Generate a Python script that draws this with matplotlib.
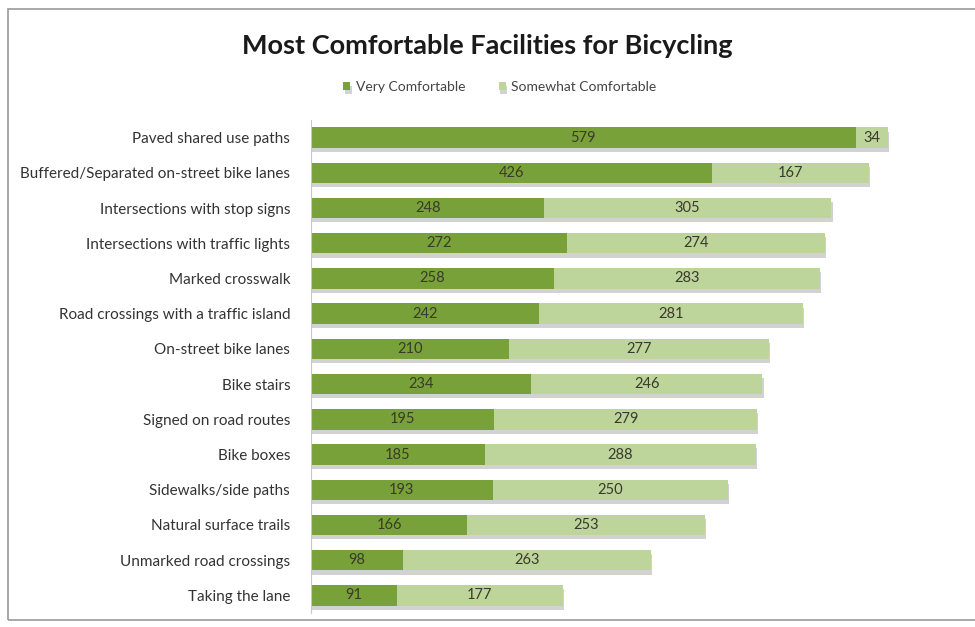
import matplotlib
matplotlib.use("Agg")
import matplotlib.pyplot as plt
import matplotlib.patheffects as pe
from matplotlib.patches import Rectangle

plt.rcParams["font.family"] = ["Lato", "DejaVu Sans"]

categories = [
    "Paved shared use paths",
    "Buffered/Separated on-street bike lanes",
    "Intersections with stop signs",
    "Intersections with traffic lights",
    "Marked crosswalk",
    "Road crossings with a traffic island",
    "On-street bike lanes",
    "Bike stairs",
    "Signed on road routes",
    "Bike boxes",
    "Sidewalks/side paths",
    "Natural surface trails",
    "Unmarked road crossings",
    "Taking the lane",
]
very_comfortable = [579, 426, 248, 272, 258, 242, 210, 234, 195, 185, 193, 166, 98, 91]
somewhat_comfortable = [34, 167, 305, 274, 283, 281, 277, 246, 279, 288, 250, 253, 263, 177]
series_names = ["Very Comfortable", "Somewhat Comfortable"]

dark_green = "#78a13a"
light_green = "#bdd49b"
label_color = "#3a3a2a"

fig = plt.figure(figsize=(9.75, 6.27), dpi=100)
W, H = 975, 627

# chart frame
fig.patches.append(Rectangle((8 / W, 1 - 620 / H), 1.2, (620 - 9) / H,
                             transform=fig.transFigure, fill=False,
                             edgecolor="#9a9a9a", linewidth=1.2))

ax = fig.add_axes([311 / W, 1 - 613 / H, (960 - 311) / W, (613 - 120) / H])
y = list(range(len(categories)))
shadow = [pe.SimplePatchShadow(offset=(1, -3), shadow_rgbFace="#808080", alpha=0.35), pe.Normal()]

b1 = ax.barh(y, very_comfortable, height=0.58, color=dark_green, label=series_names[0])
b2 = ax.barh(y, somewhat_comfortable, left=very_comfortable, height=0.58,
             color=light_green, label=series_names[1])
for bar in list(b1) + list(b2):
    bar.set_path_effects(shadow)
for bar, v in zip(b1, very_comfortable):
    ax.text(bar.get_x() + bar.get_width() / 2, bar.get_y() + bar.get_height() / 2, str(v),
            ha="center", va="center", fontsize=10.5, color=label_color)
for bar, v in zip(b2, somewhat_comfortable):
    ax.text(bar.get_x() + bar.get_width() / 2, bar.get_y() + bar.get_height() / 2, str(v),
            ha="center", va="center", fontsize=10.5, color=label_color)

ax.set_ylim(len(categories) - 0.5, -0.5)
ax.set_xlim(0, 690)
ax.set_yticks(y)
ax.set_yticklabels(categories, fontsize=11, color="#333333")
ax.tick_params(axis="y", length=0, pad=15)
ax.set_xticks([])
for s in ["top", "right", "bottom"]:
    ax.spines[s].set_visible(False)
ax.spines["left"].set_color("#c8c8c8")

fig.text(0.5, 1 - 46 / H, "Most Comfortable Facilities for Bicycling",
         ha="center", va="center", fontsize=19.5, fontweight="bold", color="#1a1a1a")
fig.legend(handles=[b1, b2], labels=series_names, loc="center",
           bbox_to_anchor=(500 / W, 1 - 87 / H), ncol=2, frameon=False,
           fontsize=10, handlelength=0.5, handleheight=0.5, columnspacing=2.4,
           handletextpad=0.4, labelcolor="#444444")

fig.savefig("out.png", dpi=100)
